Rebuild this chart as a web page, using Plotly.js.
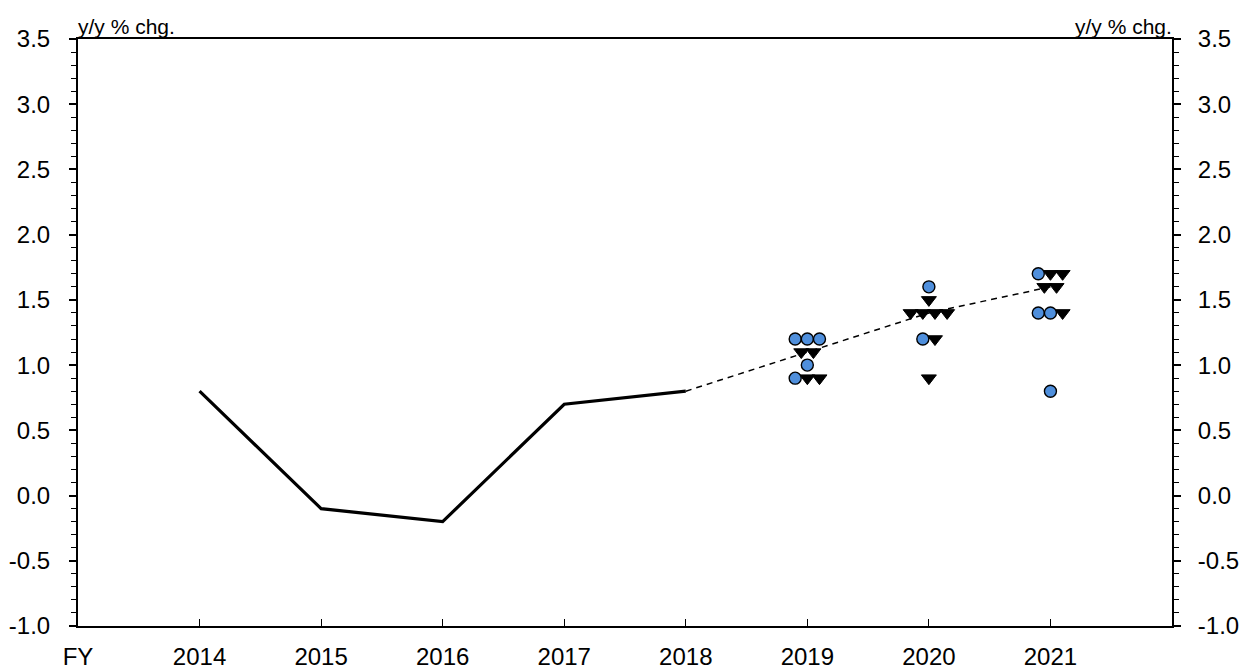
<!DOCTYPE html>
<html>
<head>
<meta charset="utf-8">
<script src="https://cdn.plot.ly/plotly-3.0.1.min.js"></script>
<style>html,body{margin:0;padding:0;background:#fff;}#chart{width:1257px;height:671px;}</style>
</head>
<body>
<div id="chart"></div>
<script>
// Actual (solid) line
const actualYears = [2014, 2015, 2016, 2017, 2018];
const actualValues = [0.8, -0.1, -0.2, 0.7, 0.8];
// Median forecast (dashed) line
const medianYears = [2018, 2019, 2020, 2021];
const medianValues = [0.8, 1.1, 1.4, 1.6];
// Circle markers (individual forecasts)
const circleX = [2018.9, 2019.0, 2019.1, 2019.0, 2018.9, 2020.0, 2019.95, 2020.9, 2020.9, 2021.0, 2021.0];
const circleY = [1.2, 1.2, 1.2, 1.0, 0.9, 1.6, 1.2, 1.7, 1.4, 1.4, 0.8];
// Triangle markers (individual forecasts)
const triX = [2018.95, 2019.05, 2019.0, 2019.1, 2020.0, 2019.85, 2019.95, 2020.05, 2020.15, 2020.05, 2020.0, 2021.0, 2021.1, 2020.95, 2021.05, 2021.1];
const triY = [1.1, 1.1, 0.9, 0.9, 1.5, 1.4, 1.4, 1.4, 1.4, 1.2, 0.9, 1.7, 1.7, 1.6, 1.6, 1.4];
// Axis ticks
const xTickVals = [2013, 2014, 2015, 2016, 2017, 2018, 2019, 2020, 2021];
const xTickText = ['FY', '2014', '2015', '2016', '2017', '2018', '2019', '2020', '2021'];
const yTickVals = [-1.0, -0.5, 0.0, 0.5, 1.0, 1.5, 2.0, 2.5, 3.0, 3.5];
const yTickText = ['-1.0', '-0.5', '0.0', '0.5', '1.0', '1.5', '2.0', '2.5', '3.0', '3.5'];
const yUnit = 'y/y % chg.';

const FONT = 'Liberation Sans, Arial, sans-serif';

const traces = [
  {x: medianYears, y: medianValues, type: 'scatter', mode: 'lines',
   line: {color: '#000', width: 1.5, dash: '6px,5px'}, hoverinfo: 'skip'},
  {x: actualYears, y: actualValues, type: 'scatter', mode: 'lines',
   line: {color: '#000', width: 3.2}},
  {x: triX, y: triY, type: 'scatter', mode: 'markers',
   marker: {symbol: 'triangle-down', size: 13, color: '#000', line: {color: '#000', width: 1}}},
  {x: circleX, y: circleY, type: 'scatter', mode: 'markers',
   marker: {symbol: 'circle', size: 12, color: '#4f8fdc', line: {color: '#000', width: 1.4}}},
  {x: [2013], y: [0], yaxis: 'y2', type: 'scatter', mode: 'markers', marker: {opacity: 0}, hoverinfo: 'skip'}
];

function yAxisDef(extra) {
  return Object.assign({
    range: [-1, 3.5], tickvals: yTickVals, ticktext: yTickText,
    ticks: 'outside', ticklen: 7, tickwidth: 2, tickcolor: '#000',
    minor: {dtick: 0.1, ticks: 'outside', ticklen: 5, tickwidth: 1, tickcolor: '#000'},
    showline: true, linecolor: '#000', linewidth: 2,
    showgrid: false, zeroline: false,
    tickfont: {size: 24, family: FONT}, ticklabelstandoff: 14
  }, extra);
}

const layout = {
  width: 1257, height: 671,
  margin: {l: 78, r: 85, t: 39, b: 45},
  paper_bgcolor: '#fff', plot_bgcolor: '#fff',
  showlegend: false,
  font: {family: FONT, color: '#000'},
  xaxis: {
    range: [2013, 2022], tickvals: xTickVals, ticktext: xTickText,
    ticks: 'inside', ticklen: 7, tickwidth: 1, tickcolor: '#000',
    showline: true, linecolor: '#000', linewidth: 2, mirror: true,
    showgrid: false, zeroline: false,
    tickfont: {size: 24, family: FONT}, ticklabelstandoff: 8
  },
  yaxis: yAxisDef({}),
  yaxis2: yAxisDef({overlaying: 'y', side: 'right', ticklabelstandoff: 12}),
  annotations: [
    {text: yUnit, xref: 'paper', yref: 'paper', x: 0, y: 1, xanchor: 'left', yanchor: 'bottom',
     showarrow: false, font: {size: 21, family: FONT}, yshift: -1, xshift: -2},
    {text: yUnit, xref: 'paper', yref: 'paper', x: 1, y: 1, xanchor: 'right', yanchor: 'bottom',
     showarrow: false, font: {size: 21, family: FONT}, yshift: -1, xshift: 2}
  ]
};

Plotly.newPlot('chart', traces, layout, {displayModeBar: false, staticPlot: true});
</script>
</body>
</html>
